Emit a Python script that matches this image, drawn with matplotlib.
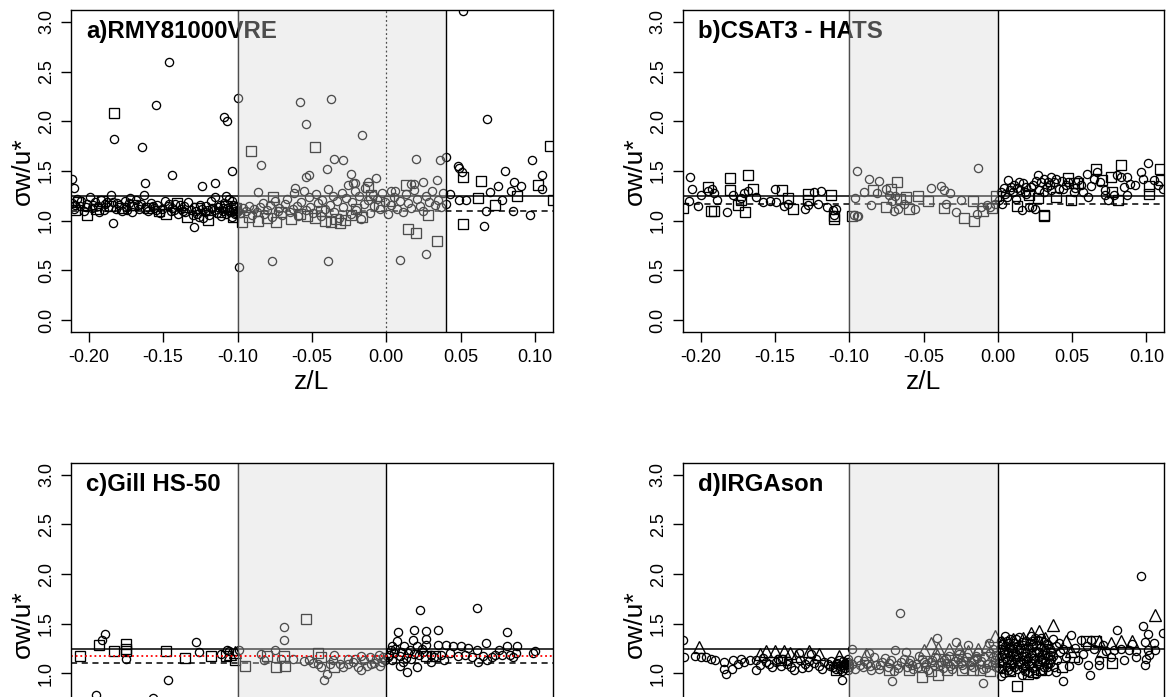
import matplotlib
matplotlib.use("Agg")
import matplotlib.pyplot as plt

plt.rcParams['font.family'] = ['Liberation Sans', 'DejaVu Sans']

# ---------------- data ----------------
panel_titles = ["a)RMY81000VRE", "b)CSAT3 - HATS", "c)Gill HS-50", "d)IRGAson"]
xtick_vals = [-0.20, -0.15, -0.10, -0.05, 0.00, 0.05, 0.10]
xtick_labels = ["-0.20", "-0.15", "-0.10", "-0.05", "0.00", "0.05", "0.10"]
ytick_vals = [0.0, 0.5, 1.0, 1.5, 2.0, 2.5, 3.0]
ytick_labels = ["0.0", "0.5", "1.0", "1.5", "2.0", "2.5", "3.0"]
shade_start = [-0.10, -0.10, -0.10, -0.10]
shade_end = [0.04, 0.00, 0.00, 0.00]
solid_level = [1.25, 1.25, 1.245, 1.245]
dashed_level = [1.10, 1.17, 1.10, None]
red_dotted_level = [None, None, 1.17, None]

# panel a
a_circles = [
    (-0.146, 2.60), (-0.183, 1.82), (-0.155, 2.16), (-0.164, 1.74), (-0.162, 1.38), (-0.144, 1.46),
    (-0.124, 1.35), (-0.115, 1.38), (-0.109, 2.04), (-0.107, 2.00), (-0.104, 1.50), (-0.100, 2.23),
    (-0.099, 0.53), (-0.129, 0.94), (-0.184, 0.98), (-0.211, 1.42), (-0.210, 1.33),
    (-0.211, 1.18), (-0.210, 1.12), (-0.208, 1.22), (-0.206, 1.15), (-0.205, 1.20), (-0.203, 1.10),
    (-0.201, 1.17), (-0.199, 1.24), (-0.198, 1.13), (-0.196, 1.19), (-0.194, 1.15), (-0.192, 1.21),
    (-0.190, 1.11), (-0.189, 1.17), (-0.187, 1.14), (-0.185, 1.26), (-0.184, 1.19), (-0.182, 1.12),
    (-0.180, 1.16), (-0.178, 1.10), (-0.176, 1.20), (-0.175, 1.14), (-0.173, 1.18), (-0.171, 1.09),
    (-0.170, 1.15), (-0.168, 1.21), (-0.166, 1.12), (-0.165, 1.17), (-0.163, 1.26), (-0.161, 1.14),
    (-0.160, 1.10), (-0.158, 1.18), (-0.156, 1.13), (-0.154, 1.16), (-0.152, 1.08), (-0.151, 1.12),
    (-0.149, 1.20), (-0.147, 1.15), (-0.145, 1.10), (-0.144, 1.13), (-0.142, 1.17), (-0.140, 1.07),
    (-0.138, 1.12), (-0.136, 1.15), (-0.135, 1.09), (-0.133, 1.19), (-0.131, 1.11), (-0.129, 1.14),
    (-0.127, 1.07), (-0.126, 1.04), (-0.124, 1.12), (-0.122, 1.09), (-0.121, 1.15), (-0.119, 1.06),
    (-0.118, 1.20), (-0.116, 1.11), (-0.115, 1.24), (-0.114, 1.08), (-0.113, 1.14), (-0.111, 1.05),
    (-0.110, 1.10), (-0.109, 1.18), (-0.108, 1.07), (-0.107, 1.13), (-0.106, 1.22), (-0.105, 1.09),
    (-0.104, 1.04), (-0.103, 1.12), (-0.102, 1.07), (-0.101, 1.15), (-0.100, 1.10),
    (-0.202, 1.14), (-0.188, 1.19), (-0.172, 1.23), (-0.167, 1.16), (-0.157, 1.15), (-0.143, 1.11),
    (-0.139, 1.16), (-0.128, 1.10), (-0.117, 1.13), (-0.112, 1.16), (-0.108, 1.25), (-0.104, 1.20),
    (-0.209, 1.16), (-0.197, 1.16), (-0.181, 1.18), (-0.174, 1.11), (-0.162, 1.12), (-0.155, 1.11),
    (-0.146, 1.17), (-0.137, 1.10), (-0.125, 1.16), (-0.120, 1.11), (-0.110, 1.13), (-0.106, 1.11),
    (-0.103, 1.16), (-0.102, 1.10), (-0.101, 1.08), (-0.123, 1.03), (-0.130, 1.06), (-0.193, 1.09),
    # shaded part
    (-0.084, 1.56), (-0.077, 0.59), (-0.058, 2.19), (-0.054, 1.97), (-0.037, 2.22), (-0.039, 0.59),
    (-0.035, 1.62), (-0.029, 1.61), (-0.040, 1.52), (-0.016, 1.86), (-0.054, 1.44), (-0.052, 1.46),
    (-0.061, 1.33), (-0.024, 1.47), (-0.022, 1.38), (-0.021, 1.38), (-0.007, 1.43), (-0.012, 1.39),
    (0.020, 1.62), (0.036, 1.61), (0.034, 1.41), (0.009, 0.60), (0.027, 0.66), (0.003, 1.30),
    (0.006, 1.30), (0.017, 1.37), (0.019, 1.37), (0.025, 1.39), (-0.086, 1.29),
    (-0.098, 1.08), (-0.096, 1.13), (-0.094, 1.10), (-0.092, 1.15), (-0.090, 1.06), (-0.089, 1.12),
    (-0.087, 1.09), (-0.085, 1.14), (-0.083, 1.18), (-0.082, 1.07), (-0.080, 1.11), (-0.078, 1.16),
    (-0.077, 1.04), (-0.075, 1.20), (-0.073, 1.10), (-0.072, 1.13), (-0.070, 1.06), (-0.068, 1.17),
    (-0.067, 1.22), (-0.065, 1.09), (-0.063, 1.12), (-0.062, 1.28), (-0.060, 1.15), (-0.059, 1.05),
    (-0.057, 1.19), (-0.055, 1.30), (-0.054, 1.11), (-0.052, 1.24), (-0.051, 1.14), (-0.049, 1.08),
    (-0.047, 1.27), (-0.046, 1.18), (-0.044, 1.05), (-0.043, 1.21), (-0.041, 1.12), (-0.039, 1.32),
    (-0.038, 1.16), (-0.036, 1.25), (-0.035, 1.09), (-0.033, 1.20), (-0.032, 1.03), (-0.030, 1.28),
    (-0.029, 1.14), (-0.027, 1.23), (-0.026, 1.36), (-0.024, 1.07), (-0.023, 1.19), (-0.021, 1.30),
    (-0.020, 1.11), (-0.018, 1.25), (-0.017, 1.02), (-0.015, 1.17), (-0.014, 1.33), (-0.012, 1.21),
    (-0.011, 1.08), (-0.009, 1.26), (-0.008, 1.15), (-0.006, 1.22), (-0.004, 1.12), (-0.003, 1.28),
    (-0.001, 1.19), (0.001, 1.07), (0.003, 1.16), (0.005, 1.24), (0.007, 1.12), (0.009, 1.20),
    (0.011, 1.09), (0.013, 1.27), (0.015, 1.18), (0.017, 1.13), (0.019, 1.31), (0.021, 1.22),
    (0.023, 1.15), (0.025, 1.10), (0.027, 1.25), (0.029, 1.19), (0.031, 1.30), (0.033, 1.16),
    (0.035, 1.21), (0.037, 1.14), (0.038, 1.28),
    # right part
    (0.052, 3.11), (0.040, 1.64), (0.048, 1.55), (0.049, 1.53), (0.051, 1.49), (0.043, 1.27),
    (0.040, 1.17), (0.049, 1.21), (0.054, 1.21), (0.068, 2.02), (0.067, 1.10), (0.066, 0.95),
    (0.070, 1.29), (0.075, 1.35), (0.080, 1.50), (0.078, 1.21), (0.084, 1.30), (0.086, 1.39),
    (0.091, 1.35), (0.085, 1.10), (0.098, 1.61), (0.097, 1.06), (0.105, 1.46), (0.105, 1.32),
]
a_squares = [
    (-0.183, 2.08),
    (-0.209, 1.11), (-0.207, 1.19), (-0.201, 1.06), (-0.195, 1.12), (-0.191, 1.20), (-0.186, 1.15),
    (-0.178, 1.13), (-0.170, 1.16), (-0.160, 1.13), (-0.153, 1.10), (-0.148, 1.07), (-0.141, 1.18),
    (-0.134, 1.04), (-0.127, 1.13), (-0.120, 1.01), (-0.112, 1.09), (-0.108, 1.15), (-0.103, 1.04),
    (-0.101, 1.13),
    (-0.091, 1.70), (-0.048, 1.74), (-0.0125, 1.34), (0.013, 1.36), (0.015, 0.92), (0.020, 0.88),
    (0.034, 0.80), (0.028, 1.06),
    (-0.097, 0.99), (-0.092, 1.04), (-0.086, 1.00), (-0.080, 1.03), (-0.076, 1.24), (-0.074, 0.99),
    (-0.071, 1.09), (-0.064, 1.02), (-0.058, 1.07), (-0.053, 1.05), (-0.048, 1.03), (-0.044, 1.10),
    (-0.041, 1.00), (-0.037, 0.99), (-0.034, 1.02), (-0.031, 0.98), (-0.028, 1.01), (-0.024, 1.06),
    (-0.020, 1.12), (-0.016, 1.04), (-0.010, 1.26), (-0.005, 1.15), (0.002, 1.20),
    (0.052, 1.44), (0.064, 1.40), (0.062, 1.23), (0.052, 0.97), (0.073, 1.16), (0.088, 1.25),
    (0.102, 1.36), (0.110, 1.75), (0.112, 1.21),
]

# panel b
b_circles = [
    (-0.207, 1.44), (-0.206, 1.32), (-0.208, 1.20), (-0.202, 1.15), (-0.200, 1.26), (-0.195, 1.30),
    (-0.192, 1.32), (-0.189, 1.21), (-0.191, 1.28), (-0.182, 1.09), (-0.178, 1.26), (-0.173, 1.23),
    (-0.171, 1.28), (-0.168, 1.30), (-0.163, 1.24), (-0.158, 1.19), (-0.153, 1.20), (-0.150, 1.32),
    (-0.149, 1.19), (-0.144, 1.15), (-0.141, 1.17), (-0.130, 1.12), (-0.128, 1.16), (-0.124, 1.29),
    (-0.119, 1.30), (-0.121, 1.17), (-0.115, 1.14), (-0.111, 1.11), (-0.109, 1.12), (-0.110, 1.06),
    (-0.097, 1.06), (-0.095, 1.05), (-0.094, 1.05),
    (-0.095, 1.50), (-0.087, 1.42), (-0.080, 1.40), (-0.096, 1.23), (-0.090, 1.29), (-0.085, 1.16),
    (-0.081, 1.28), (-0.075, 1.32), (-0.073, 1.26), (-0.071, 1.20), (-0.069, 1.25), (-0.070, 1.10),
    (-0.067, 1.12), (-0.063, 1.17), (-0.056, 1.12), (-0.045, 1.33), (-0.038, 1.35), (-0.036, 1.31),
    (-0.032, 1.28), (-0.035, 1.17), (-0.028, 1.09), (-0.025, 1.21), (-0.013, 1.53), (-0.014, 1.07),
    (-0.011, 1.14), (-0.007, 1.16), (-0.005, 1.14), (-0.002, 1.17),
    (0.004, 1.33), (0.005, 1.27), (0.007, 1.41), (0.009, 1.34), (0.011, 1.36), (0.012, 1.22),
    (0.014, 1.39), (0.016, 1.11), (0.017, 1.38), (0.019, 1.34), (0.021, 1.14), (0.023, 1.14),
    (0.025, 1.12), (0.027, 1.46), (0.029, 1.39), (0.031, 1.42), (0.034, 1.39), (0.036, 1.44),
    (0.038, 1.39), (0.039, 1.42), (0.044, 1.32), (0.046, 1.36), (0.051, 1.29), (0.054, 1.41),
    (0.057, 1.29), (0.060, 1.47), (0.061, 1.24), (0.063, 1.35), (0.067, 1.49), (0.069, 1.39),
    (0.072, 1.31), (0.074, 1.21), (0.078, 1.26), (0.080, 1.46), (0.083, 1.44), (0.085, 1.34),
    (0.087, 1.44), (0.089, 1.37), (0.092, 1.36), (0.096, 1.49), (0.098, 1.42), (0.101, 1.58),
    (0.105, 1.41), (0.108, 1.36), (0.111, 1.32), (0.087, 1.26), (0.072, 1.26),
    (0.002, 1.29), (0.006, 1.24), (0.010, 1.29), (0.015, 1.31), (0.019, 1.27), (0.022, 1.34),
    (0.028, 1.31), (0.033, 1.34), (0.036, 1.31), (0.041, 1.32), (0.001, 1.21), (0.003, 1.17),
    (0.013, 1.33), (0.024, 1.36), (0.031, 1.29), (0.047, 1.39), (0.052, 1.33), (0.065, 1.42),
    (0.008, 1.31), (0.018, 1.29), (0.026, 1.40), (0.035, 1.36), (0.043, 1.40), (0.056, 1.36),
]
b_squares = [
    (-0.212, 1.13), (-0.195, 1.34), (-0.193, 1.10), (-0.191, 1.10), (-0.180, 1.43), (-0.180, 1.31),
    (-0.173, 1.21), (-0.175, 1.16), (-0.170, 1.09), (-0.168, 1.46), (-0.165, 1.32), (-0.145, 1.31),
    (-0.141, 1.23), (-0.138, 1.12), (-0.128, 1.27), (-0.128, 1.21), (-0.112, 1.26), (-0.110, 1.02),
    (-0.110, 1.05), (-0.098, 1.05),
    (-0.084, 1.31), (-0.068, 1.39), (-0.075, 1.14), (-0.072, 1.32), (-0.066, 1.22), (-0.060, 1.12),
    (-0.062, 1.24), (-0.054, 1.25), (-0.047, 1.20), (-0.036, 1.13), (-0.023, 1.03), (-0.016, 1.00),
    (-0.017, 1.20), (-0.010, 1.10), (-0.004, 1.13), (-0.001, 1.25),
    (0.013, 1.15), (0.021, 1.26), (0.031, 1.06), (0.031, 1.05), (0.027, 1.23), (0.039, 1.24),
    (0.047, 1.43), (0.049, 1.21), (0.051, 1.38), (0.054, 1.38), (0.066, 1.52), (0.076, 1.44),
    (0.070, 1.41), (0.081, 1.21), (0.083, 1.56), (0.077, 1.29), (0.102, 1.35), (0.102, 1.27),
    (0.109, 1.52), (0.110, 1.41),
]

# panel c
c_circles = [
    (-0.191, 1.34), (-0.189, 1.40), (-0.175, 1.14), (-0.128, 1.32), (-0.126, 1.22), (-0.147, 0.93),
    (-0.195, 0.78), (-0.157, 0.75), (-0.111, 1.20), (-0.107, 1.24), (-0.106, 1.23),
    (-0.099, 1.24), (-0.084, 1.20), (-0.082, 1.13), (-0.075, 1.24), (-0.069, 1.47), (-0.069, 1.34),
    (-0.071, 1.14), (-0.063, 1.14), (-0.055, 1.12), (-0.052, 1.13), (-0.049, 1.10), (-0.046, 1.09),
    (-0.044, 1.06), (-0.042, 0.93), (-0.040, 0.99), (-0.038, 1.09), (-0.036, 1.13), (-0.035, 1.19),
    (-0.031, 1.09), (-0.029, 1.06), (-0.026, 1.09), (-0.022, 1.11), (-0.019, 1.06), (-0.017, 1.03),
    (-0.015, 1.13), (-0.013, 1.07), (-0.011, 1.16), (-0.010, 1.09), (-0.007, 1.14), (-0.005, 1.19),
    (-0.003, 1.11), (-0.002, 1.16), (-0.017, 1.18), (-0.021, 1.14), (-0.026, 1.14), (-0.008, 1.10),
    (-0.004, 1.07), (-0.001, 1.13),
    (0.023, 1.64), (0.061, 1.66), (0.008, 1.42), (0.019, 1.44), (0.027, 1.43), (0.035, 1.44),
    (0.081, 1.42), (0.027, 1.35), (0.007, 1.33), (0.018, 1.34), (0.067, 1.31), (0.027, 1.29),
    (0.004, 1.28), (0.012, 1.28), (0.021, 1.28), (0.035, 1.29), (0.040, 1.29), (0.045, 1.28),
    (0.050, 1.28), (0.055, 1.26), (0.061, 1.24), (0.076, 1.24), (0.081, 1.28), (0.088, 1.28),
    (0.005, 1.21), (0.009, 1.18), (0.015, 1.21), (0.022, 1.19), (0.030, 1.19), (0.037, 1.19),
    (0.043, 1.21), (0.048, 1.18), (0.053, 1.19), (0.058, 1.16), (0.065, 1.18), (0.073, 1.19),
    (0.078, 1.19), (0.087, 1.21), (0.100, 1.23), (0.004, 1.13), (0.011, 1.11), (0.017, 1.14),
    (0.014, 1.01), (0.021, 1.06), (0.030, 1.11), (0.039, 1.13), (0.062, 1.11), (0.068, 1.13),
    (0.071, 1.16), (0.083, 1.19), (0.085, 1.16), (0.002, 1.19), (0.003, 1.24), (0.001, 1.16),
    (0.006, 1.25), (0.010, 1.22), (0.013, 1.15), (0.016, 1.24), (0.019, 1.20), (0.025, 1.22),
    (0.032, 1.16), (0.009, 1.07), (0.024, 1.25), (0.099, 1.21),
]
c_squares = [
    (-0.206, 1.17), (-0.193, 1.29), (-0.183, 1.23), (-0.175, 1.30), (-0.175, 1.25), (-0.175, 1.23),
    (-0.148, 1.23), (-0.135, 1.15), (-0.118, 1.17), (-0.108, 1.17), (-0.102, 1.13),
    (-0.095, 1.07), (-0.080, 1.18), (-0.074, 1.06), (-0.069, 1.18), (-0.068, 1.07), (-0.054, 1.55),
    (-0.046, 1.21), (-0.044, 1.16), (-0.035, 1.06),
    (0.027, 1.18), (0.033, 1.17),
]
c_triangles = [(-0.102, 1.22), (-0.105, 1.20)]

# panel d
d_circles = [
    (-0.212, 1.34), (-0.211, 1.16), (-0.204, 1.18), (-0.200, 1.16), (-0.196, 1.16), (-0.193, 1.14),
    (-0.190, 1.13), (-0.184, 1.11), (-0.178, 1.13), (-0.175, 1.09), (-0.184, 1.04), (-0.183, 0.99),
    (-0.179, 1.04), (-0.173, 1.14), (-0.171, 1.11), (-0.167, 1.13), (-0.163, 1.13), (-0.160, 1.08),
    (-0.163, 1.03), (-0.156, 1.11), (-0.152, 1.06), (-0.149, 1.11), (-0.145, 1.14), (-0.142, 1.09),
    (-0.139, 1.06), (-0.137, 1.03), (-0.133, 1.13), (-0.130, 1.09), (-0.128, 1.06), (-0.124, 1.10),
    (-0.122, 1.14), (-0.120, 1.07), (-0.117, 1.11), (-0.114, 1.09), (-0.111, 1.06), (-0.109, 1.09),
    (-0.106, 1.04), (-0.105, 0.93), (-0.102, 1.08), (-0.101, 1.03), (-0.134, 1.21), (-0.126, 1.20),
    (-0.108, 1.10), (-0.106, 1.07), (-0.104, 1.12), (-0.103, 1.05), (-0.102, 1.09), (-0.101, 1.14),
    (-0.100, 1.06), (-0.109, 1.04), (-0.105, 1.02), (-0.148, 1.14), (-0.158, 1.15), (-0.141, 1.12),
    (-0.107, 1.13), (-0.104, 1.08), (-0.103, 1.10), (-0.101, 1.11), (-0.100, 1.09), (-0.112, 1.12),
    (-0.154, 1.09), (-0.146, 1.07), (-0.132, 1.05), (-0.118, 1.04), (-0.113, 1.07), (-0.127, 1.12),
    # shaded part
    (-0.066, 1.61), (-0.071, 0.92), (-0.010, 0.90),
    (-0.098, 1.25), (-0.087, 1.21), (-0.083, 1.16), (-0.069, 1.24), (-0.062, 1.22), (-0.041, 1.36),
    (-0.028, 1.32), (-0.020, 1.29), (-0.006, 1.31),
    (-0.098, 1.09), (-0.094, 1.13), (-0.091, 1.06), (-0.088, 1.09), (-0.085, 1.03), (-0.082, 1.08),
    (-0.078, 1.11), (-0.074, 1.06), (-0.072, 1.13), (-0.068, 1.08), (-0.065, 1.11), (-0.061, 1.06),
    (-0.059, 1.13), (-0.055, 1.09), (-0.051, 1.14), (-0.049, 1.06), (-0.045, 1.11), (-0.042, 1.16),
    (-0.039, 1.08), (-0.036, 1.13), (-0.033, 1.18), (-0.030, 1.09), (-0.027, 1.14), (-0.024, 1.08),
    (-0.021, 1.16), (-0.018, 1.11), (-0.015, 1.18), (-0.012, 1.09), (-0.009, 1.16), (-0.005, 1.21),
    (-0.002, 1.13), (-0.001, 1.19), (-0.004, 1.08), (-0.010, 1.04), (-0.096, 1.04), (-0.090, 1.12),
    (-0.080, 1.04), (-0.076, 1.15), (-0.070, 1.02), (-0.063, 1.14), (-0.057, 1.04), (-0.053, 1.17),
    (-0.047, 1.03), (-0.043, 1.08), (-0.037, 1.05), (-0.034, 1.10), (-0.031, 1.04), (-0.026, 1.20),
    (-0.023, 1.04), (-0.017, 1.06), (-0.013, 1.22), (-0.008, 1.05), (-0.003, 1.25), (-0.001, 1.06),
    (-0.093, 1.08), (-0.086, 1.07), (-0.079, 1.08), (-0.073, 1.10), (-0.067, 1.05), (-0.060, 1.10),
    (-0.054, 1.06), (-0.048, 1.09), (-0.044, 1.13), (-0.038, 1.11), (-0.032, 1.07), (-0.029, 1.12),
    (-0.025, 1.10), (-0.019, 1.08), (-0.016, 1.13), (-0.011, 1.12), (-0.007, 1.09), (-0.003, 1.16),
    (-0.002, 1.10), (-0.014, 1.15), (-0.022, 1.12), (-0.035, 1.15), (-0.050, 1.11), (-0.058, 1.08),
    # right part
    (0.001, 1.05), (0.001, 1.15), (0.002, 1.25), (0.002, 1.33), (0.003, 1.10), (0.004, 1.20),
    (0.004, 1.00), (0.005, 1.28), (0.006, 1.13), (0.006, 1.06), (0.007, 1.22), (0.008, 1.35),
    (0.008, 1.17), (0.009, 1.02), (0.010, 1.09), (0.010, 1.26), (0.011, 1.31), (0.012, 1.14),
    (0.012, 1.20), (0.013, 1.04), (0.014, 1.24), (0.014, 1.37), (0.015, 1.11), (0.016, 1.18),
    (0.016, 0.98), (0.017, 1.29), (0.018, 1.07), (0.018, 1.22), (0.019, 1.33), (0.020, 1.15),
    (0.020, 1.01), (0.021, 1.25), (0.022, 1.10), (0.022, 1.38), (0.023, 1.19), (0.024, 1.05),
    (0.024, 1.30), (0.025, 1.13), (0.026, 1.23), (0.026, 0.99), (0.027, 1.34), (0.028, 1.16),
    (0.028, 1.08), (0.029, 1.27), (0.030, 1.20), (0.030, 1.03), (0.031, 1.32), (0.032, 1.12),
    (0.032, 1.24), (0.033, 1.06), (0.034, 1.18), (0.034, 1.29), (0.035, 1.10), (0.036, 1.22),
    (0.005, 1.38), (0.003, 1.30), (0.013, 1.28), (0.025, 1.36), (0.019, 1.12), (0.011, 1.18),
    (0.029, 1.14), (0.008, 1.09), (0.023, 1.27), (0.017, 1.05), (0.002, 0.97), (0.007, 1.31),
    (0.001, 1.10), (0.002, 1.19), (0.003, 1.04), (0.004, 1.24), (0.005, 1.15), (0.006, 1.33),
    (0.007, 1.03), (0.008, 1.27), (0.009, 1.13), (0.010, 1.21), (0.011, 1.06), (0.012, 1.35),
    (0.013, 1.16), (0.014, 1.09), (0.015, 1.26), (0.016, 1.32), (0.017, 1.13), (0.018, 1.02),
    (0.019, 1.18), (0.020, 1.28), (0.021, 1.08), (0.022, 1.21), (0.023, 1.33), (0.024, 1.15),
    (0.025, 1.03), (0.026, 1.29), (0.027, 1.10), (0.028, 1.22), (0.029, 1.36), (0.030, 1.13),
    (0.031, 1.06), (0.032, 1.19), (0.033, 1.30), (0.034, 1.02), (0.035, 1.25), (0.036, 1.14),
    (0.096, 1.98), (0.044, 0.92), (0.062, 0.98), (0.080, 1.44), (0.098, 1.48), (0.101, 1.40),
    (0.099, 1.32), (0.111, 1.41), (0.101, 1.24), (0.100, 1.14), (0.099, 1.08), (0.093, 1.16),
    (0.088, 1.24), (0.049, 1.39), (0.056, 1.34), (0.060, 1.28), (0.063, 1.34), (0.052, 1.26),
    (0.046, 1.16), (0.054, 1.13), (0.061, 1.08), (0.068, 1.13), (0.073, 1.23), (0.078, 1.24),
    (0.083, 1.25), (0.068, 1.08), (0.076, 1.16), (0.039, 1.28), (0.035, 1.19), (0.040, 1.13),
    (0.034, 1.09), (0.102, 1.19), (0.105, 1.31), (0.106, 1.24), (0.093, 1.23), (0.085, 1.13),
    (0.042, 1.22), (0.037, 1.35), (0.044, 1.25), (0.057, 1.20), (0.065, 1.25), (0.090, 1.30),
    (0.038, 1.06), (0.041, 1.31), (0.037, 1.17), (0.039, 1.01), (0.048, 1.07), (0.071, 1.29),
]
d_squares = [
    (-0.109, 1.03), (-0.146, 1.13),
    (-0.051, 0.96), (-0.040, 0.98), (-0.034, 1.03), (-0.024, 1.03), (-0.017, 1.03), (-0.012, 1.03),
    (-0.073, 1.03), (-0.060, 1.03), (-0.045, 1.02), (-0.005, 1.02),
    (0.013, 0.87), (0.043, 1.06), (0.077, 1.10), (0.066, 1.33), (0.059, 1.33), (0.051, 1.16),
    (0.029, 1.03), (0.020, 0.99), (0.008, 1.02), (0.024, 1.01),
]
d_triangles = [
    (-0.201, 1.27), (-0.156, 1.23), (-0.150, 1.23), (-0.144, 1.23), (-0.127, 1.23), (-0.120, 1.20),
    (-0.107, 1.18), (-0.136, 1.18), (-0.160, 1.20), (-0.140, 1.21),
    (-0.050, 1.24), (-0.045, 1.31), (-0.040, 1.26), (-0.033, 1.25), (-0.026, 1.26), (-0.020, 1.23),
    (-0.013, 1.25), (-0.002, 1.38), (-0.007, 1.28), (-0.041, 1.19), (-0.024, 1.19), (-0.089, 1.20),
    (0.022, 1.41), (0.028, 1.43), (0.037, 1.49), (0.032, 1.36), (0.017, 1.36), (0.046, 1.33),
    (0.068, 1.33), (0.076, 1.31), (0.083, 1.33), (0.090, 1.33), (0.106, 1.59), (0.070, 1.23),
    (0.049, 1.23), (0.003, 1.32), (0.010, 1.35),
]

panel_circles = [a_circles, b_circles, c_circles, d_circles]
panel_squares = [a_squares, b_squares, c_squares, d_squares]
panel_triangles = [[], [], c_triangles, d_triangles]

# ---------------- layout ----------------
W, H = 1168, 697
fig = plt.figure(figsize=(W / 100, H / 100), dpi=100)

def px_rect(left, top, right, bottom):
    return [left / W, (H - bottom) / H, (right - left) / W, (bottom - top) / H]

rects = [
    px_rect(71, 10, 552.7, 332),
    px_rect(682.7, 10, 1164.3, 332),
    px_rect(71, 462.7, 552.7, 784.7),
    px_rect(682.7, 462.7, 1164.3, 784.7),
]

for i in range(4):
    ax = fig.add_axes(rects[i])
    ax.set_xlim(-0.212, 0.112)
    ax.set_ylim(-0.12, 3.12)
    top_row = i < 2

    for pts, mk, ms in ((panel_circles[i], 'o', 5.9), (panel_squares[i], 's', 7.0),
                        (panel_triangles[i], '^', 8.0)):
        if pts:
            xs = [p[0] for p in pts]
            ys = [p[1] for p in pts]
            ax.plot(xs, ys, linestyle='none', marker=mk, ms=ms, mfc='none', mec='black',
                    mew=0.95, zorder=4)

    ax.axhline(solid_level[i], color='black', lw=1.1, zorder=4.5)
    if dashed_level[i] is not None:
        ax.axhline(dashed_level[i], color='black', lw=1.1, dashes=(4, 3), zorder=4.5)

    # shaded band drawn over markers (makes them gray)
    ax.axvline(shade_start[i], color='black', lw=1.0, zorder=5)
    if i == 0:
        ax.axvline(0.0, color='black', lw=0.9, linestyle=(0, (1.5, 2)), zorder=5)
    ax.axvspan(shade_start[i], shade_end[i], facecolor='#d8d8d8', alpha=0.36,
               edgecolor='none', zorder=10)
    ax.axvline(shade_end[i], color='black', lw=1.0, zorder=11)

    if red_dotted_level[i] is not None:
        ax.axhline(red_dotted_level[i], color='red', lw=1.3, linestyle=(0, (1, 1.6)), zorder=11)

    ax.text(0.032, 0.932, panel_titles[i], transform=ax.transAxes, fontsize=17.3,
            fontweight='bold', ha='left', va='center', zorder=3)

    ax.set_xticks(xtick_vals)
    if top_row:
        ax.set_xticklabels(xtick_labels, fontsize=13)
        ax.set_yticks(ytick_vals)
        ax.set_yticklabels(ytick_labels, fontsize=13, rotation=90, va='center')
    else:
        ax.set_xticklabels([])
        ax.set_yticks(ytick_vals[2:])
        ax.set_yticklabels(ytick_labels[2:], fontsize=13, rotation=90, va='center')
    ax.tick_params(axis='both', direction='out', length=7.5, width=1.0, color='black')
    ax.tick_params(axis='x', pad=5)
    ax.tick_params(axis='y', pad=4)
    for sp in ax.spines.values():
        sp.set_linewidth(1.0)
        sp.set_zorder(12)

    ax.set_ylabel("σw/u*", fontsize=19)
    ax.yaxis.label.set_va('center')
    ax.yaxis.set_label_coords(-0.100, 0.5)
    if top_row:
        ax.set_xlabel("z/L", fontsize=19)
        ax.xaxis.set_label_coords(0.5, -0.155)
        ax.xaxis.label.set_va('center')

fig.savefig("out.png", dpi=100)
